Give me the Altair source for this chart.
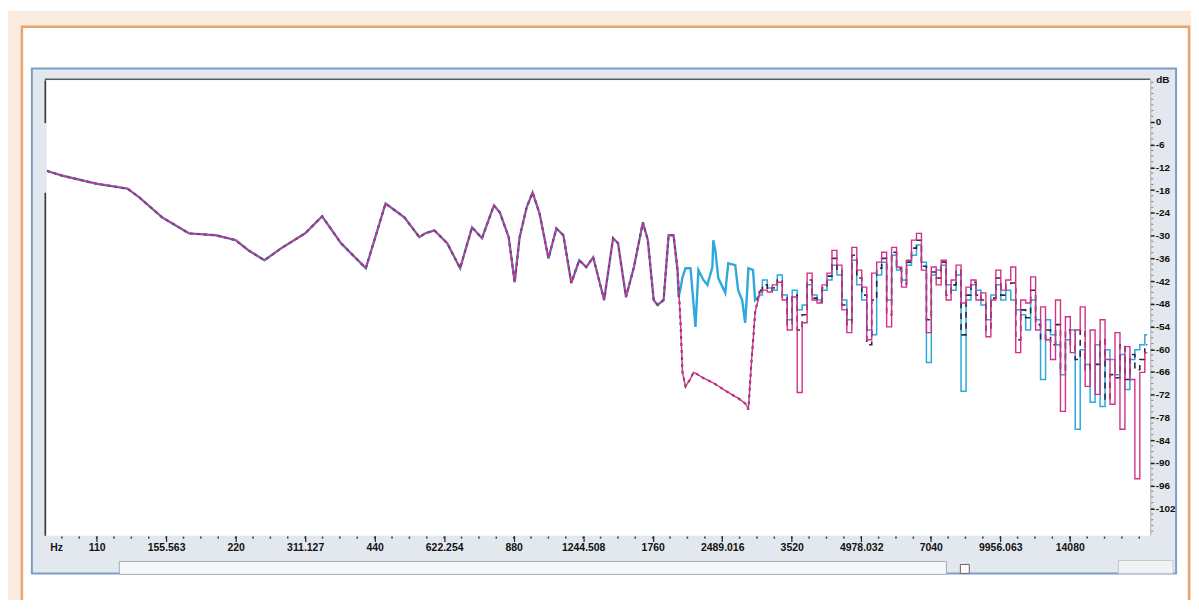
import altair as alt
import pandas as pd

# ---------------- data (Hz, dB) ----------------
# low-frequency part: all three traces coincide
low_hz = [85.8, 92.9, 110, 128.3, 136.1, 152.6, 174.4, 199.4, 220, 234.7, 254.0, 276.3,
          311.2, 338.6, 372.0, 421.1, 464.6, 510.5, 549.9, 566.5, 592.4, 631.8, 673.8,
          715.1, 751.4, 797.5, 821.5, 858.4, 884.4, 906.6, 938.6, 966.9, 1001, 1046.7,
          1088.9, 1127.5, 1173, 1220.5, 1263.6, 1308.2, 1381.6, 1444.5, 1480.8, 1540.6,
          1603, 1676, 1718, 1768.8, 1804, 1858.6, 1905.4, 1953]
low_db = [-12.9, -14.2, -16.3, -17.6, -19.9, -25.2, -29.4, -29.9, -31.2, -33.9, -36.5, -33.3,
          -29.4, -24.9, -32.0, -38.6, -21.5, -25.2, -30.4, -29.4, -28.6, -32.0, -38.6,
          -27.8, -30.7, -22.0, -23.9, -30.4, -42.3, -30.4, -22.6, -18.6, -24.1, -36.0,
          -28.1, -29.9, -42.5, -36.5, -38.3, -35.7, -47.0, -30.7, -32.0, -46.2,
          -38.3, -26.5, -31.2, -47.0, -48.3, -47.0, -29.9, -29.9]

# notch region (about 2-3 kHz)
dip_hz = [1992, 2002, 2022, 2042, 2073, 2125, 2157, 2178, 2211, 2266, 2312, 2370, 2381, 2405,
          2441, 2527, 2565, 2656, 2695, 2749, 2791, 2818, 2836, 2889, 2903, 2932, 3004]
magenta_dip = [-39.1, -43.0, -53.0, -66.1, -69.8, -67.8, -66.1, -66.3, -66.8, -67.6, -68.1,
               -68.8, -68.9, -69.2, -69.7, -70.9, -71.4, -72.5, -72.9, -73.7, -74.3, -75.1,
               -75.9, -60.9, -58.0, -50.4, -44.9]
cyan_dip = [-39.1, -46.2, -44.0, -41.0, -38.6, -38.6, -47.8, -54.1, -39.1, -41.7, -43.0,
            -38.3, -31.2, -33.9, -41.2, -45.1, -37.3, -37.8, -44.4, -47.0, -53.0, -45.0,
            -38.6, -39.0, -39.1, -47.0, -45.7]
dark_dip = [-39.1, -43.0, -53.0, -66.1, -69.8, -67.8, -66.1, -66.3, -66.8, -67.6, -68.1,
            -68.8, -68.9, -69.2, -69.7, -70.9, -71.4, -72.5, -72.9, -73.7, -74.3, -75.1,
            -75.9, -60.9, -58.0, -50.4, -44.4]

# high-frequency part (noisy, stepped)
hi_hz = [3004, 3079, 3156, 3235, 3317, 3400, 3485, 3573, 3663, 3754, 3849, 3945, 4044, 4146,
         4249, 4356, 4465, 4577, 4692, 4810, 4930, 5054, 5181, 5311, 5444, 5581, 5721, 5865,
         6011, 6162, 6317, 6476, 6638, 6805, 6976, 7146, 7325, 7509, 7697, 7890, 8088, 8291,
         8499, 8711, 8931, 9155, 9384, 9621, 9860, 10109, 10362, 10623, 10889, 11163, 11442,
         11729, 12022, 12325, 12634, 12953, 13277, 13610, 13951, 14291, 14650, 15018, 15394,
         15781, 16177, 16582, 16997, 17423, 17862, 18310, 18769, 19242, 19720, 20217, 20724]
magenta_hi = [-44.9, -44.4, -44.9, -43.0, -42.3, -47.0, -54.9, -46.2, -71.4, -53.0,
              -39.9, -47.0, -47.8, -43.0, -39.9, -33.9, -37.8, -49.6, -55.6, -33.1,
              -39.1, -43.6, -57.5, -39.9, -37.0, -34.4, -54.1, -33.1, -38.3, -43.6,
              -36.5, -31.2, -29.4, -39.1, -55.6, -38.3, -43.0, -36.5, -47.0, -41.7,
              -37.8, -47.8, -43.6, -41.7, -47.0, -45.1, -56.7, -47.0, -39.1, -44.4,
              -41.7, -38.3, -60.9, -47.0, -47.8, -40.9, -54.9, -48.8, -57.5, -62.7,
              -47.0, -76.4, -51.4, -60.9, -54.9, -48.8, -69.8, -54.9, -71.9, -52.2,
              -62.7, -74.5, -55.6, -81.1, -59.3, -68.0, -94.2, -66.1, -60.9]
cyan_hi = [-45.7, -41.7, -43.8, -44.4, -40.4, -45.7, -52.2, -44.4, -49.6, -48.3,
           -43.0, -45.7, -47.0, -44.4, -41.7, -37.8, -40.4, -47.0, -52.2, -36.5,
           -43.0, -47.0, -54.9, -56.2, -40.4, -37.0, -47.0, -35.2, -39.1, -41.7,
           -37.8, -35.2, -32.5, -37.0, -63.5, -40.4, -39.1, -37.8, -43.0, -44.4,
           -40.4, -71.1, -47.0, -43.0, -44.4, -48.3, -52.2, -45.7, -43.0, -47.0,
           -44.4, -47.0, -49.6, -50.9, -54.9, -47.0, -52.2, -68.0, -52.2, -56.2,
           -58.8, -66.7, -57.5, -54.9, -81.1, -60.1, -64.0, -74.0, -58.8, -75.1,
           -60.1, -62.7, -66.7, -61.4, -70.6, -62.7, -60.1, -58.8, -56.2]
dark_hi = [-44.4, -43.0, -44.4, -43.8, -41.7, -46.5, -53.5, -45.7, -54.9, -50.9,
           -41.7, -46.5, -47.5, -43.8, -40.7, -36.0, -39.1, -48.3, -53.5, -35.2,
           -41.2, -45.7, -58.8, -47.0, -38.6, -36.0, -50.9, -34.4, -38.6, -42.8,
           -37.0, -33.3, -31.2, -38.1, -52.2, -39.6, -41.2, -37.0, -45.7, -43.0,
           -39.1, -56.2, -45.7, -42.3, -45.7, -47.0, -54.9, -46.5, -41.2, -45.7,
           -43.0, -42.5, -57.5, -49.6, -51.7, -44.4, -53.5, -57.5, -54.9, -58.8,
           -53.5, -65.4, -54.9, -58.8, -62.7, -54.9, -65.4, -64.0, -64.0, -57.5,
           -73.2, -66.7, -67.5, -58.8, -68.0, -61.4, -65.4, -62.7, -58.8]

x_tick_hz = [110, 155.563, 220, 311.127, 440, 622.254, 880, 1244.508, 1760, 2489.016,
             3520, 4978.032, 7040, 9956.063, 14080]
y_tick_db = [0, -6, -12, -18, -24, -30, -36, -42, -48, -54, -60, -66, -72, -78, -84,
             -90, -96, -102]
x_minor_hz = [110 * 2 ** (k / 8) for k in range(-2, 61)]
y_minor_db = [10.5 - 1.5 * k for k in range(80)]

# ---------------- tables ----------------
def part(hz, db):
    return pd.DataFrame({"hz": hz, "db": db})

cyan_low = part(low_hz + dip_hz, low_db + cyan_dip)
dark_low = part(low_hz + dip_hz, low_db + dark_dip)
mag_low = part(low_hz + dip_hz, low_db + magenta_dip)
cyan_high = part(hi_hz, cyan_hi)
dark_high = part(hi_hz, dark_hi)
mag_high = part(hi_hz, magenta_hi)

# ---------------- styling ----------------
W, H = 1110, 458
FONT = "Liberation Sans Narrow, Arial Narrow, Liberation Sans, Arial, sans-serif"
xs = alt.Scale(type="log", domain=[85.8, 21032], nice=False)
ys = alt.Scale(domain=[-109.2, 11.0], nice=False, zero=False)

C_CYAN = "#2fa8dc"
C_DARK = "#2c2846"
C_MAG = "#d42f86"

one = pd.DataFrame({"k": [0]})


def box(x, x2, y, y2, fill, stroke=None, sw=1.0):
    kw = dict(fill=fill, clip=False)
    if stroke:
        kw.update(stroke=stroke, strokeWidth=sw)
    return alt.Chart(one).mark_rect(**kw).encode(
        x=alt.value(x), x2=alt.value(x2), y=alt.value(y), y2=alt.value(y2))


def hline(x, x2, y, color, w):
    return alt.Chart(one).mark_rule(color=color, strokeWidth=w, clip=False).encode(
        x=alt.value(x), x2=alt.value(x2), y=alt.value(y))


def vline(x, y, y2, color, w):
    return alt.Chart(one).mark_rule(color=color, strokeWidth=w, clip=False).encode(
        x=alt.value(x), y=alt.value(y), y2=alt.value(y2))


xaxis = alt.Axis(values=x_tick_hz, labelExpr="'' + datum.value", domain=False, grid=False,
                 ticks=True, tickSize=6, tickColor="#222222", tickWidth=1.2, labelFont=FONT,
                 labelFontSize=10.5, labelFontWeight="bold", labelColor="#111111",
                 labelPadding=1, title=None, labelOverlap=False, labelFlush=False, zindex=2)
yaxis = alt.Axis(orient="right", values=y_tick_db, labelExpr="'' + datum.value", domain=False,
                 grid=False, ticks=True, tickSize=4, tickColor="#222222", tickWidth=1.4,
                 labelFont=FONT, labelFontSize=10, labelFontWeight="bold",
                 labelColor="#111111", labelAlign="left", labelBaseline="middle",
                 labelPadding=1, title=None, labelOverlap=False, labelFlush=False, zindex=2)

X = lambda: alt.X("hz:Q", scale=xs, axis=xaxis)
Y = lambda: alt.Y("db:Q", scale=ys, axis=yaxis)


def trace(df, color, width, interp, dash=None):
    kw = dict(color=color, strokeWidth=width, interpolate=interp, clip=True)
    if dash:
        kw["strokeDash"] = dash
    return alt.Chart(df).mark_line(**kw).encode(x=X(), y=Y(), order=alt.Order("hz:Q"))


layers = [
    box(-40, 1160, -70, 560, "#f9ebdf"),                       # beige page
    box(-25, 1149, -54, 600, "#ffffff", "#e9a56c", 2.5),       # white panel, orange rim
    box(-15, 1136, -12, 496, "#e3e8ee", "#7a9dc9", 2),         # analyzer window
    box(0, W, 0, H, "#ffffff"),                                # plot area
    hline(-2, W, -1, "#5a5f66", 1.5),                          # top border of plot
    vline(-1.5, 0, 43, "#3a3a3a", 1.6),                        # left meter line
    vline(-1.5, 113, H, "#3a3a3a", 1.6),
    vline(W + 0.5, 0, H, "#a9b1bb", 1),                        # right border
    box(73, 905, 484, 497, "#f6f7f9", "#a3abb5", 1),           # status box
    box(919, 928, 487, 496, "#ffffff", "#666666", 1),          # checkbox
    box(1078, 1133, 483, 496, "#f2f3f5", "#c3c8ce", 1),        # button
    alt.Chart(pd.DataFrame({"hz": x_minor_hz})).mark_rule(color="#333333", strokeWidth=1.5).encode(
        x=X(), y=alt.value(H + 1), y2=alt.value(H + 3)),
    alt.Chart(pd.DataFrame({"db": y_minor_db})).mark_rule(color="#777777", strokeWidth=1).encode(
        y=Y(), x=alt.value(W + 1), x2=alt.value(W + 3)),
    trace(cyan_low, C_CYAN, 2.4, "linear"),
    trace(cyan_high, C_CYAN, 1.5, "step"),
    trace(dark_low, C_DARK, 2.0, "linear", dash=[3, 4]),
    trace(dark_high, C_DARK, 1.6, "step", dash=[6, 5]),
    trace(mag_low, C_MAG, 1.4, "linear"),
    trace(mag_high, C_MAG, 1.4, "step"),
    alt.Chart(one).mark_text(text="Hz", font=FONT, fontSize=10.5, fontWeight="bold",
                             color="#111111", align="center", baseline="top").encode(
        x=alt.value(10), y=alt.value(H + 7)),
    alt.Chart(one).mark_text(text="dB", font=FONT, fontSize=10, fontWeight="bold",
                             color="#111111", align="left", baseline="middle").encode(
        x=alt.value(W + 6), y=alt.value(0)),
]

chart = alt.layer(*layers).properties(
    width=W, height=H,
    padding={"left": 39, "top": 71, "right": 41, "bottom": 63},
    autosize=alt.AutoSizeParams(type="none"),
    background="#ffffff",
).configure_view(stroke=None)

chart.save("out.html", embed_options={"renderer": "svg", "actions": False})
